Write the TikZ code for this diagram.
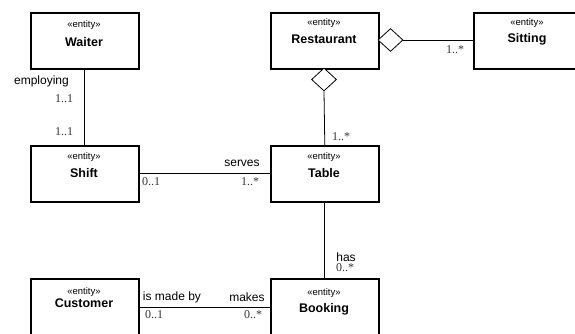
\documentclass[tikz,border=0pt]{standalone}
\usepackage{fontspec}
\setmainfont{Liberation Sans}
\newfontfamily\multfont{Liberation Serif}
\usetikzlibrary{shapes.geometric,calc}
\begin{document}
\begin{tikzpicture}[x=1pt,y=-1pt,
  entitybox/.style={draw,line width=1.6pt,minimum width=108pt,minimum height=56pt,anchor=north west,inner sep=0pt},
  stereo/.style={font=\fontsize{9.5}{11}\selectfont,inner sep=0pt},
  ename/.style={font=\fontsize{12.5}{14}\selectfont\bfseries,inner sep=0pt},
  assoc/.style={line width=0.8pt},
  agg/.style={draw,diamond,line width=0.8pt,fill=white,minimum width=25pt,minimum height=23pt,inner sep=0pt},
  rolelbl/.style={font=\fontsize{12}{14}\selectfont,inner sep=0pt},
  mult/.style={font=\fontsize{12}{13}\selectfont\multfont,text=black!80,inner sep=0pt}]
\useasboundingbox (0,0) rectangle (575,333);
\clip (0,0) rectangle (575,333);

% entity boxes
\node[entitybox] (waiter) at (30,12) {};
\node[entitybox] (restaurant) at (270,12) {};
\node[entitybox] (sitting) at (473,12) {};
\node[entitybox] (shift) at (30,145) {};
\node[entitybox] (table) at (270,145) {};
\node[entitybox] (customer) at (30,278) {};
\node[entitybox] (booking) at (270,278) {};

% stereotypes and names
\node[stereo] at (84,25) {«entity»};   \node[ename] at (84,42) {Waiter};
\node[stereo] at (324,23) {«entity»};  \node[ename] at (324,39) {Restaurant};
\node[stereo] at (527,23) {«entity»};  \node[ename] at (527,39) {Sitting};
\node[stereo] at (84,157) {«entity»};  \node[ename] at (84,173) {Shift};
\node[stereo] at (324,157) {«entity»}; \node[ename] at (324,173) {Table};
\node[stereo] at (84,292) {«entity»};  \node[ename] at (84,303) {Customer};
\node[stereo] at (324,293) {«entity»}; \node[ename] at (324,309) {Booking};

% aggregation diamonds
\node[agg] (aggsit) at (390.5,40) {};
\node[agg] (aggtab) at (324,79.5) {};

% associations
\draw[assoc] (waiter.south) -- (shift.north);
\draw[assoc] (aggsit.east) -- (sitting.west |- aggsit.east);
\draw[assoc] (aggtab.south) -- (table.north);
\draw[assoc] (shift.east |- 0,173) -- (table.west |- 0,173);
\draw[assoc] (table.south) -- (booking.north);
\draw[assoc] (customer.east |- 0,307) -- (booking.west |- 0,307);

% role names
\node[rolelbl] at (41.5,81) {employing};
\node[rolelbl] at (242,163) {serves};
\node[rolelbl] at (346,257) {has};
\node[rolelbl] at (172,297) {is made by};
\node[rolelbl] at (247,297) {makes};

% multiplicities
\node[mult] at (64,99) {1..1};
\node[mult] at (64,132) {1..1};
\node[mult] at (455,50) {1..*};
\node[mult] at (341,137) {1..*};
\node[mult] at (151,182) {0..1};
\node[mult] at (250,182) {1..*};
\node[mult] at (345,268) {0..*};
\node[mult] at (154,315) {0..1};
\node[mult] at (253,315) {0..*};
\end{tikzpicture}
\end{document}
